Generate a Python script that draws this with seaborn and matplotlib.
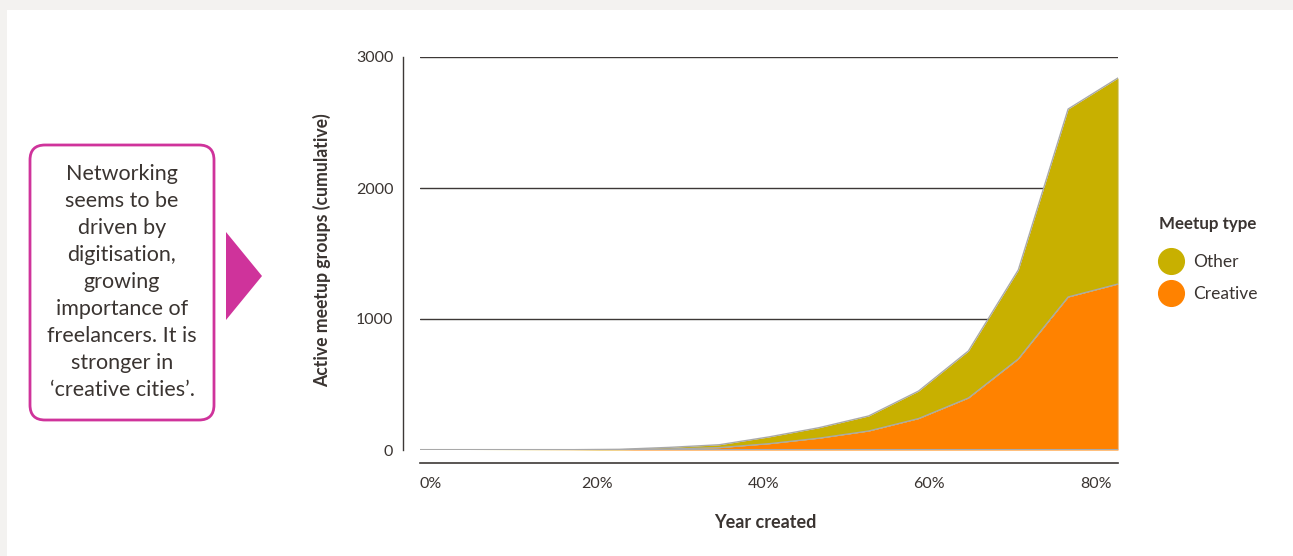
import numpy as np
import pandas as pd
import seaborn as sns
import matplotlib
matplotlib.use("Agg")
import matplotlib.pyplot as plt
from matplotlib.patches import FancyBboxPatch, Polygon, Rectangle
from matplotlib.lines import Line2D

# ---------------- data ----------------
x_pos = [-1.3, 4.7, 10.7, 16.7, 22.7, 28.7, 34.7, 40.7, 46.7, 52.7, 58.7, 64.7, 70.7, 76.7, 82.7]
creative = [0, 0, 0, 1, 2, 8, 18, 48, 90, 145, 240, 397, 695, 1168, 1267]
other = [0, 0, 1, 1, 3, 12, 22, 52, 80, 115, 210, 359, 679, 1435, 1573]
series_names = ["Other", "Creative"]
x_ticks = [0, 20, 40, 60, 80]
x_tick_labels = ["0%", "20%", "40%", "60%", "80%"]
y_ticks = [0, 1000, 2000, 3000]
y_tick_labels = ["0", "1000", "2000", "3000"]
annotation = "Networking\nseems to be\ndriven by\ndigitisation,\ngrowing\nimportance of\nfreelancers. It is\nstronger in\n\u2018creative cities\u2019."

# ---------------- style ----------------
sns.set_theme(style="white")
plt.rcParams["font.family"] = ["Lato", "DejaVu Sans"]

C_OTHER = "#c8b000"
C_CREATIVE = "#ff8200"
C_EDGE = "#a9a9a9"
C_TEXT = "#3a3431"
C_GRID = "#3d3836"
C_MAGENTA = "#cf339b"

W, H = 1293, 556
DPI = 100
fig = plt.figure(figsize=(W / DPI, H / DPI), dpi=DPI)
fig.patch.set_facecolor("#f3f2f0")

def px(xp, yp):
    return xp / DPI, (H - yp) / DPI

# white panel
fig.add_artist(Rectangle(px(7, H), (W - 7) / DPI, (H - 10) / DPI,
                         transform=fig.dpi_scale_trans, fc="white", ec="none", zorder=0))

# axes placement (pixels): x 420..1118, y 57..450
L, R, T, B = 420, 1118, 57, 450
ax = fig.add_axes([L / W, (H - B) / H, (R - L) / W, (B - T) / H])
ax.set_facecolor("none")

df = pd.DataFrame({"x": x_pos, "Creative": creative, "Other": other})
df["Total"] = df["Creative"] + df["Other"]

ax.fill_between(df["x"], 0, df["Creative"], color=C_CREATIVE, lw=0, zorder=2)
ax.fill_between(df["x"], df["Creative"], df["Total"], color=C_OTHER, lw=0, zorder=2)
sns.lineplot(data=df, x="x", y="Creative", color=C_EDGE, lw=1, ax=ax, zorder=3)
sns.lineplot(data=df, x="x", y="Total", color=C_EDGE, lw=1, ax=ax, zorder=3)
ax.plot([x_pos[-1], x_pos[-1]], [0, df["Total"].iloc[-1]], color=C_EDGE, lw=1, zorder=3)
ax.plot([x_pos[0], x_pos[-1]], [0, 0], color=C_EDGE, lw=1.5, zorder=3)

ax.set_xlim(x_pos[0], x_pos[-1])
ax.set_ylim(0, 3000)
for yv in y_ticks[1:]:
    ax.axhline(yv, color=C_GRID, lw=1, zorder=1)

ax.set_xticks(x_ticks)
ax.set_xticklabels(x_tick_labels)
ax.set_yticks(y_ticks)
ax.set_yticklabels(y_tick_labels, va="center_baseline")
ax.tick_params(axis="both", length=0, labelsize=11.5, colors=C_TEXT)
ax.tick_params(axis="y", pad=7)
ax.tick_params(axis="x", pad=10)

for s in ["top", "right"]:
    ax.spines[s].set_visible(False)
ax.spines["left"].set_position(("outward", 17 * 72 / DPI))
ax.spines["bottom"].set_position(("outward", 13 * 72 / DPI))
ax.spines["left"].set_color(C_GRID)
ax.spines["bottom"].set_color(C_GRID)
ax.spines["left"].set_linewidth(1)
ax.spines["bottom"].set_linewidth(1.2)

ax.set_xlabel("Year created", fontsize=13, fontweight="bold", color=C_TEXT)
ax.set_ylabel("Active meetup groups (cumulative)", fontsize=12.7, fontweight="bold", color=C_TEXT)
ax.xaxis.label.set_va("center")
ax.yaxis.label.set_va("center")
ax.xaxis.set_label_coords((765 - L) / (R - L), (B - 523) / (B - T))
ax.yaxis.set_label_coords((322 - L) / (R - L), (B - 250) / (B - T))

# legend
fig.text(1159 / W, (H - 224) / H, "Meetup type", ha="left", va="center",
         fontsize=12.2, fontweight="bold", color=C_TEXT)
handles = [Line2D([], [], marker="o", ls="", markersize=18.5, color=C_OTHER),
           Line2D([], [], marker="o", ls="", markersize=18.5, color=C_CREATIVE)]
leg = ax.legend(handles, series_names, loc="upper left",
                bbox_to_anchor=(1150 / W, (H - 245) / H), bbox_transform=fig.transFigure,
                frameon=False, borderpad=0, handlelength=1.4, handletextpad=0.6,
                labelspacing=0.95, fontsize=12.5)
for t in leg.get_texts():
    t.set_color(C_TEXT)

# annotation box
x0, y0 = px(30, 420)
fig.add_artist(FancyBboxPatch((x0, y0), 184 / DPI, 275 / DPI,
                              boxstyle="round,pad=0,rounding_size=0.15",
                              transform=fig.dpi_scale_trans, fc="white",
                              ec=C_MAGENTA, lw=2.0, zorder=2))
fig.text(122 / W, (H - 282) / H, annotation, ha="center", va="center",
         fontsize=15.5, color=C_TEXT, linespacing=1.44, zorder=3)
fig.add_artist(Polygon([px(226, 232), px(262, 276), px(226, 320)], closed=True,
                       transform=fig.dpi_scale_trans, fc=C_MAGENTA, ec="none", zorder=2))

fig.savefig("out.png", dpi=DPI, facecolor=fig.get_facecolor())
